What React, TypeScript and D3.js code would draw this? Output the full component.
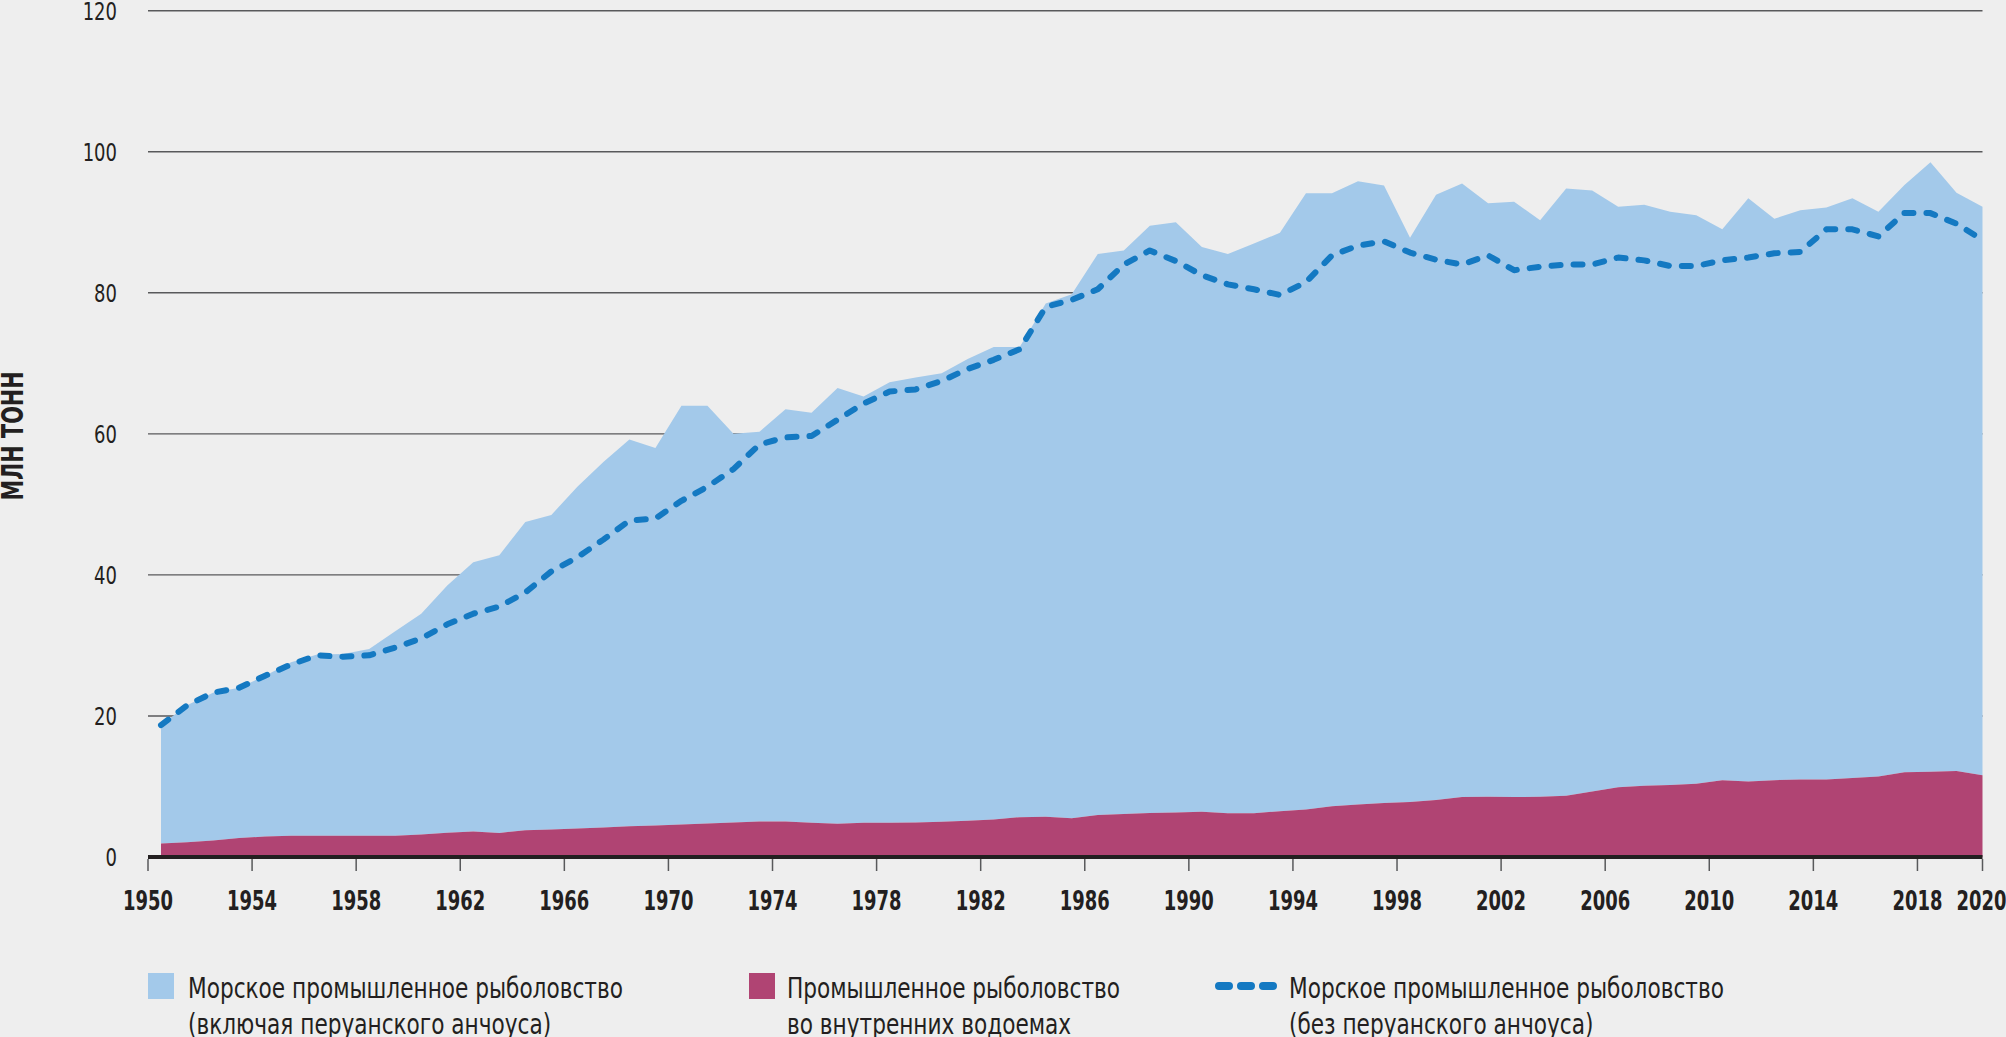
import React from "react";
import * as d3 from "d3";

const years: number[] = d3.range(1950, 2021);

// Inland capture fisheries (million tonnes)
const inlandCapture: number[] = [
  1.9, 2.1, 2.35, 2.7, 2.9, 3.0, 3.0, 3.0, 3.0, 3.0,
  3.2, 3.45, 3.6, 3.4, 3.8, 3.9, 4.05, 4.2, 4.35, 4.45,
  4.6, 4.75, 4.9, 5.05, 5.05, 4.85, 4.7, 4.85, 4.87, 4.9,
  5.0, 5.15, 5.3, 5.65, 5.7, 5.5, 5.95, 6.1, 6.25, 6.3,
  6.4, 6.2, 6.2, 6.5, 6.75, 7.2, 7.45, 7.65, 7.8, 8.1,
  8.5, 8.55, 8.5, 8.55, 8.7, 9.3, 9.9, 10.1, 10.2, 10.4,
  10.9, 10.7, 10.9, 11.0, 11.0, 11.2, 11.4, 12.0, 12.1, 12.2,
  11.6,
];

// Top of the stack: inland + marine capture (incl. Peruvian anchoveta)
const totalCapture: number[] = [
  18.7, 21.5, 23.3, 24.0, 25.7, 27.6, 28.7, 28.8, 29.5, 32.0,
  34.5, 38.5, 41.8, 42.8, 47.5, 48.5, 52.5, 56.0, 59.2, 58.0,
  64.0, 64.0, 60.0, 60.3, 63.5, 63.0, 66.5, 65.3, 67.3, 68.0,
  68.6, 70.6, 72.3, 72.3, 78.5, 79.8, 85.5, 86.0, 89.5, 90.0,
  86.5, 85.5, 87.0, 88.5, 94.1, 94.1, 95.8, 95.2, 87.8, 93.9,
  95.5, 92.7, 92.9, 90.3, 94.8, 94.5, 92.2, 92.5, 91.5, 91.0,
  89.0, 93.4, 90.5, 91.7, 92.1, 93.4, 91.5, 95.3, 98.5, 94.2,
  92.2,
];

// Stack top excluding Peruvian anchoveta (dashed line)
const totalExclAnchoveta: number[] = [
  18.7, 21.5, 23.3, 24.0, 25.7, 27.3, 28.6, 28.4, 28.6, 29.7,
  31.0, 33.0, 34.5, 35.5, 37.5, 40.5, 42.5, 45.0, 47.7, 48.0,
  50.5, 52.5, 55.0, 58.5, 59.5, 59.7, 62.0, 64.3, 66.0, 66.3,
  67.5, 69.2, 70.5, 72.0, 78.0, 79.0, 80.5, 84.0, 86.0, 84.5,
  82.5, 81.2, 80.5, 79.7, 81.5, 85.3, 86.7, 87.3, 85.7, 84.7,
  84.0, 85.3, 83.2, 83.7, 84.0, 84.0, 85.0, 84.6, 83.8, 83.8,
  84.6, 85.0, 85.6, 85.8, 89.0, 89.0, 88.0, 91.3, 91.3, 89.8,
  87.5,
];

const yTicks: number[] = [0, 20, 40, 60, 80, 100, 120];
const xTickYears: number[] = [1950, 1954, 1958, 1962, 1966, 1970, 1974, 1978, 1982, 1986, 1990, 1994, 1998, 2002, 2006, 2010, 2014, 2018];
const xEndLabel = "2020";
const yTitle = "МЛН ТОНН";
const legendItems = [
  { kind: "rect", color: "#a3c9ea", lines: ["Морское промышленное рыболовство", "(включая перуанского анчоуса)"] },
  { kind: "rect", color: "#b04473", lines: ["Промышленное рыболовство", "во внутренних водоемах"] },
  { kind: "dash", color: "#1479c2", lines: ["Морское промышленное рыболовство", "(без перуанского анчоуса)"] },
];

const W = 2006;
const H = 1037;
const left = 148;
const right = 1982.5;
const y0px = 857;
const y120px = 10.7;
const FONT = "'DejaVu Sans Condensed', 'Liberation Sans Narrow', sans-serif";

type TxtProps = {
  x: number;
  y: number;
  sx: number;
  size: number;
  anchor?: "start" | "middle" | "end";
  bold?: boolean;
  rotate?: number;
  children: React.ReactNode;
};

function Txt({ x, y, sx, size, anchor = "start", bold = false, rotate = 0, children }: TxtProps) {
  return (
    <text
      transform={`translate(${x}, ${y}) rotate(${rotate}) scale(${sx}, 1)`}
      textAnchor={anchor}
      fontSize={size}
      fontWeight={bold ? "bold" : "normal"}
      fill="#231f20"
    >
      {children}
    </text>
  );
}

export default function App() {
  const x = d3.scaleLinear().domain([1950, 2020.5]).range([left, right]);
  const y = d3.scaleLinear().domain([0, 120]).range([y0px, y120px]);
  const px = (i: number) => x(years[i] + 0.5);

  const inlandArea = d3
    .area<number>()
    .x((_, i) => px(i))
    .y0(() => y(0))
    .y1((d) => y(d))(inlandCapture) as string;

  const marineArea = d3
    .area<number>()
    .x((_, i) => px(i))
    .y0((_, i) => y(inlandCapture[i]))
    .y1((d) => y(d))(totalCapture) as string;

  const dashedLine = d3
    .line<number>()
    .x((_, i) => px(i))
    .y((d) => y(d))(totalExclAnchoveta) as string;

  const legendX = [148, 749, 1216];
  const legendTextX = [188, 787, 1289];

  return (
    <svg width={W} height={H} style={{ position: "absolute", left: 0, top: 0, display: "block" }} fontFamily={FONT}>
      <rect x={0} y={0} width={W} height={H} fill="#eeeeee" />
      {yTicks.filter((t) => t > 0).map((t) => (
        <line key={t} x1={left} x2={right} y1={y(t)} y2={y(t)} stroke="#58595b" strokeWidth={1.4} />
      ))}
      <path d={marineArea} fill="#a3c9ea" />
      <path d={inlandArea} fill="#b04473" />
      <path d={dashedLine} fill="none" stroke="#1479c2" strokeWidth={6} strokeDasharray="9 13" strokeLinecap="round" strokeLinejoin="round" />
      <line x1={left} x2={right} y1={y(0)} y2={y(0)} stroke="#231f20" strokeWidth={4} />
      {[...xTickYears, 2020.5].map((t) => (
        <line key={t} x1={x(t)} x2={x(t)} y1={y(0) + 2} y2={y(0) + 14} stroke="#58595b" strokeWidth={1.5} />
      ))}
      {xTickYears.map((t) => (
        <Txt key={t} x={x(t)} y={910} sx={0.74} size={27} anchor="middle" bold>
          {t}
        </Txt>
      ))}
      <Txt x={x(2020.5) - 1} y={910} sx={0.74} size={27} anchor="middle" bold>
        {xEndLabel}
      </Txt>
      {yTicks.map((t) => (
        <Txt key={t} x={117} y={y(t) + 9} sx={0.8} size={25} anchor="end">
          {t}
        </Txt>
      ))}
      <Txt x={23} y={436} sx={0.77} size={30} anchor="middle" bold rotate={-90}>
        {yTitle}
      </Txt>
      {legendItems.map((item, i) => (
        <g key={i}>
          {item.kind === "rect" ? (
            <rect x={legendX[i]} y={973} width={26} height={26} fill={item.color} />
          ) : (
            <line x1={legendX[i] + 3} x2={legendX[i] + 57} y1={986} y2={986} stroke={item.color} strokeWidth={8} strokeDasharray="10 12" strokeLinecap="round" />
          )}
          {item.lines.map((ln, j) => (
            <Txt key={j} x={legendTextX[i]} y={998 + j * 36} sx={0.83} size={29}>
              {ln}
            </Txt>
          ))}
        </g>
      ))}
    </svg>
  );
}
